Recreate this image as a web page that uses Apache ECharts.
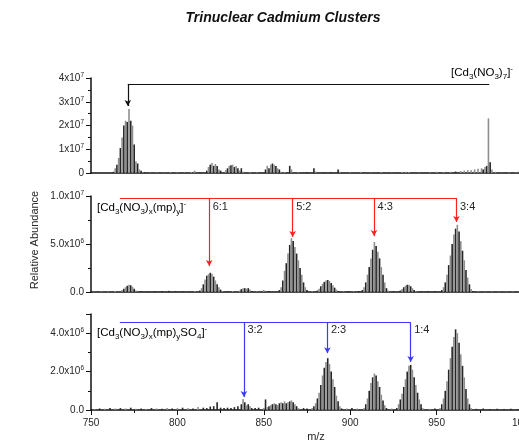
<!DOCTYPE html>
<html>
<head>
<meta charset="utf-8">
<script src="https://cdn.jsdelivr.net/npm/echarts@6/dist/echarts.min.js"></script>
<style>
  html, body { margin: 0; padding: 0; background: #fff; }
  #chart { width: 519px; height: 442px; }
</style>
</head>
<body>
<div id="chart"></div>
<script>
// isotope envelopes: [first m/z, intensities at 1 amu steps]
// top panel in 1e7, middle and bottom in 1e6
var topClusters = [
  [763, [0.05, 0.2, 0.35, 0.63, 1.05, 1.5, 2.0, 2.2, 2.15, 2.7, 2.2, 2.0, 1.2, 0.5, 0.4, 0.15, 0.1, 0.03]],
  [817, [0.1, 0.25, 0.35, 0.42, 0.3, 0.38, 0.3, 0.15, 0.1]],
  [828, [0.12, 0.2, 0.3, 0.33, 0.35, 0.25, 0.3, 0.2, 0.1, 0.2, 0.05]],
  [851, [0.15, 0.3, 0.2, 0.35, 0.4, 0.35, 0.3, 0.2, 0.15, 0.05]],
  [865, [0.3, 0.15]]
];
var topNoise = [
  [781, 0.03], [784, 0.02], [788, 0.03], [792, 0.02], [796, 0.04], [800, 0.03], [804, 0.02], [808, 0.04],
  [810, 0.1], [813, 0.03], [842, 0.04], [846, 0.03], [862, 0.04], [870, 0.03], [875, 0.04], [879, 0.2],
  [880, 0.06], [885, 0.03], [889, 0.03], [893, 0.15], [894, 0.05], [900, 0.03], [906, 0.05], [912, 0.02],
  [918, 0.04], [924, 0.02], [930, 0.04], [932, 0.05], [934, 0.04], [940, 0.02], [946, 0.03], [950, 0.05],
  [954, 0.04], [958, 0.05], [961, 0.06], [964, 0.08], [966, 0.1], [968, 0.12], [970, 0.12], [972, 0.15],
  [974, 0.18], [976, 0.2], [977, 0.15], [978, 0.25], [979, 0.3], [980, 2.3], [981, 0.45], [982, 0.15],
  [984, 0.05], [988, 0.02], [992, 0.03], [996, 0.02], [998, 0.1]
];

var midClusters = [
  [768, [0.2, 0.35, 0.5, 0.65, 0.75, 0.7, 0.55, 0.35, 0.15]],
  [813, [0.15, 0.4, 0.8, 1.3, 1.7, 1.85, 2.0, 1.9, 1.6, 1.2, 0.8, 0.5, 0.25, 0.1]],
  [836, [0.15, 0.3, 0.4, 0.4, 0.35, 0.4, 0.25, 0.1]],
  [859, [0.2, 0.5, 1.2, 2.2, 3.0, 4.0, 4.9, 5.6, 5.3, 4.7, 4.0, 3.3, 2.5, 1.8, 1.0, 0.5, 0.2]],
  [881, [0.15, 0.35, 0.6, 0.85, 1.05, 1.2, 1.25, 1.15, 0.95, 0.7, 0.45, 0.25, 0.1]],
  [907, [0.2, 0.5, 1.0, 1.8, 2.6, 3.5, 4.4, 5.2, 4.8, 4.2, 3.5, 2.6, 1.8, 1.0, 0.4, 0.15]],
  [929, [0.15, 0.3, 0.5, 0.65, 0.75, 0.75, 0.6, 0.4, 0.2, 0.1]],
  [953, [0.2, 0.5, 1.0, 1.8, 2.8, 3.8, 5.0, 6.0, 6.6, 7.0, 6.3, 5.3, 4.3, 3.3, 2.3, 1.5, 0.8, 0.3, 0.1]]
];
var midNoise = [
  [752, 0.05], [756, 0.08], [760, 0.06], [764, 0.1], [779, 0.1], [783, 0.05], [787, 0.08], [791, 0.1],
  [795, 0.12], [799, 0.08], [803, 0.06], [807, 0.05], [810, 0.08], [829, 0.08], [832, 0.1], [846, 0.08],
  [850, 0.2], [853, 0.1], [878, 0.08], [896, 0.06], [899, 0.1], [902, 0.08], [905, 0.1], [925, 0.08],
  [941, 0.06], [945, 0.08], [949, 0.1], [974, 0.08], [978, 0.06], [982, 0.05], [986, 0.06], [990, 0.05],
  [994, 0.06], [998, 0.05]
];

var botClusters = [
  [837, [0.3, 0.57, 0.4, 0.25, 0.3, 0.2, 0.1]],
  [850, [0.1, 0.55, 0.15, 0.2, 0.25, 0.3, 0.35, 0.3, 0.25, 0.35, 0.4, 0.35, 0.45, 0.35, 0.4, 0.45, 0.5, 0.4, 0.3, 0.2, 0.1]],
  [878, [0.1, 0.2, 0.35, 0.6, 0.9, 1.3, 1.8, 2.2, 2.5, 2.7, 2.4, 2.0, 1.6, 1.2, 0.75, 0.45, 0.2, 0.08]],
  [908, [0.1, 0.3, 0.6, 1.0, 1.4, 1.7, 1.9, 1.8, 1.5, 1.2, 0.8, 0.5, 0.25, 0.1]],
  [927, [0.1, 0.3, 0.55, 0.85, 1.2, 1.6, 2.0, 2.3, 2.35, 2.1, 1.7, 1.3, 0.9, 0.55, 0.3, 0.1]],
  [952, [0.1, 0.3, 0.6, 1.0, 1.5, 2.1, 2.7, 3.3, 3.8, 4.2, 4.0, 3.5, 2.9, 2.3, 1.7, 1.1, 0.6, 0.3, 0.1]]
];
var botNoise = [
  [752, 0.05], [755, 0.08], [758, 0.06], [761, 0.1], [764, 0.08], [767, 0.1], [770, 0.08], [773, 0.12],
  [776, 0.06], [779, 0.08], [782, 0.06], [785, 0.1], [788, 0.08], [791, 0.06], [794, 0.1], [797, 0.08],
  [800, 0.1], [803, 0.12], [806, 0.1], [809, 0.08], [812, 0.15], [815, 0.12], [817, 0.1], [819, 0.18],
  [821, 0.2], [823, 0.4], [825, 0.12], [827, 0.1], [829, 0.12], [831, 0.1], [833, 0.15], [835, 0.2],
  [845, 0.1], [847, 0.12], [873, 0.1], [875, 0.08], [898, 0.08], [901, 0.1], [904, 0.08], [924, 0.08],
  [946, 0.06], [949, 0.08], [973, 0.06], [977, 0.08], [981, 0.05], [985, 0.06], [989, 0.05], [993, 0.06],
  [997, 0.05]
];

// assignment brackets: m/z of arrows, arrow tip heights, bracket level
var topArrowMz = [771.3];
var topArrowTip = [2.82];
var topBracket = [771.3, 980.5, 3.75];

var midArrowMz = [818.4, 866.7, 913.8, 961.5];
var midArrowTip = [2.7, 5.73, 5.83, 7.3];
var midRatios = ['6:1', '5:2', '4:3', '3:4'];
var midBracket = [766.7, 961.5, 9.8];

var botArrowMz = [838.5, 886.8, 935];
var botArrowTip = [0.68, 2.96, 2.5];
var botRatios = ['3:2', '2:3', '1:4'];
var botBracket = [766.7, 935, 4.57];

var FONT = 'Liberation Sans, Arial, sans-serif';
var DARK = '#262626';
var GRAY = '#8e8e8e';

function build(clusters, noise) {
  var out = [];
  clusters.forEach(function (c) {
    c[1].forEach(function (v, i) { out.push([c[0] + i, v]); });
  });
  noise.forEach(function (p) { out.push(p); });
  return out;
}

function bracket(b, mzs, tips, color) {
  var lines = [[{ coord: [b[0], b[2]], symbol: 'none' }, { coord: [b[1], b[2]], symbol: 'none' }]];
  mzs.forEach(function (m, i) {
    lines.push([{ coord: [m, b[2]], symbol: 'none' }, { coord: [m, tips[i]] }]);
  });
  return {
    silent: true,
    symbol: ['none', 'arrow'],
    symbolSize: [5, 6],
    label: { show: false },
    lineStyle: { color: color, width: 1.2, type: 'solid', opacity: 1 },
    emphasis: { disabled: true },
    data: lines
  };
}

function ratioLabels(mzs, names, level) {
  return {
    silent: true,
    symbol: 'circle',
    symbolSize: 1,
    itemStyle: { color: 'rgba(0,0,0,0)' },
    label: { show: true, position: 'right', distance: 3, formatter: '{b}', color: DARK, fontSize: 11, fontFamily: FONT },
    data: mzs.map(function (m, i) { return { name: names[i], coord: [m, level] }; })
  };
}

var richY = {
  m: { fontSize: 10, lineHeight: 13, color: DARK, fontFamily: FONT },
  s: { fontSize: 6.5, color: DARK, fontFamily: FONT, verticalAlign: 'top' }
};
var richT = {
  m: { fontSize: 11.5, lineHeight: 16, color: DARK, fontFamily: FONT },
  b: { fontSize: 8, color: DARK, fontFamily: FONT, verticalAlign: 'bottom' },
  t: { fontSize: 8, color: DARK, fontFamily: FONT, verticalAlign: 'top' }
};

var grids = [
  { left: 91, width: 432, top: 78, height: 95, outerBoundsMode: 'none', containLabel: false },
  { left: 91, width: 432, top: 196, height: 96, outerBoundsMode: 'none', containLabel: false },
  { left: 91, width: 432, top: 314, height: 96, outerBoundsMode: 'none', containLabel: false }
];

function xAx(i, showLabels) {
  return {
    type: 'value', gridIndex: i, min: 750, max: 1000, interval: 50,
    axisLine: { show: true, onZero: false, lineStyle: { color: '#111', width: 1.5 } },
    axisTick: { show: showLabels, length: 5, lineStyle: { color: '#111' } },
    minorTick: { show: showLabels, splitNumber: 2, length: 3, lineStyle: { color: '#111' } },
    axisLabel: { show: showLabels, fontSize: 10, color: DARK, fontFamily: FONT, margin: 8,
      formatter: function (v) { return String(v); } },
    splitLine: { show: false }
  };
}

function yAx(i, max, interval, fmt) {
  return {
    type: 'value', gridIndex: i, min: 0, max: max, interval: interval,
    axisLine: { show: true, lineStyle: { color: '#111', width: 1.5 } },
    axisTick: { show: true, length: 5, lineStyle: { color: '#111' } },
    minorTick: { show: true, splitNumber: 2, length: 3, lineStyle: { color: '#111' } },
    axisLabel: { show: true, margin: 7, formatter: fmt, rich: richY },
    splitLine: { show: false }
  };
}

function barColor(p) { return p.value[0] % 2 ? DARK : GRAY; }

var myChart = echarts.init(document.getElementById('chart'));
var option = {
  animation: false,
  backgroundColor: '#fff',
  grid: grids,
  xAxis: [xAx(0, false), xAx(1, false), xAx(2, true)],
  yAxis: [
    yAx(0, 4, 1, function (v) { return v === 0 ? '{m|0}' : '{m|' + v + 'x10}{s|7}'; }),
    yAx(1, 10, 5, function (v) {
      if (v === 0) return '{m|0.0}';
      return v === 10 ? '{m|1.0x10}{s|7}' : '{m|5.0x10}{s|6}';
    }),
    yAx(2, 5, 2, function (v) {
      if (v === 0) return '{m|0.0}';
      if (v === 5) return '';
      return '{m|' + v.toFixed(1) + 'x10}{s|6}';
    })
  ],
  series: [
    {
      type: 'bar', xAxisIndex: 0, yAxisIndex: 0, barWidth: 1.6,
      data: build(topClusters, topNoise),
      itemStyle: { color: barColor },
      markLine: bracket(topBracket, topArrowMz, topArrowTip, '#111')
    },
    {
      type: 'bar', xAxisIndex: 1, yAxisIndex: 1, barWidth: 1.6,
      data: build(midClusters, midNoise),
      itemStyle: { color: barColor },
      markLine: bracket(midBracket, midArrowMz, midArrowTip, '#ff2020'),
      markPoint: ratioLabels(midArrowMz, midRatios, 8.85)
    },
    {
      type: 'bar', xAxisIndex: 2, yAxisIndex: 2, barWidth: 1.6,
      data: build(botClusters, botNoise),
      itemStyle: { color: barColor },
      markLine: bracket(botBracket, botArrowMz, botArrowTip, '#3a3aff'),
      markPoint: ratioLabels(botArrowMz, botRatios, 4.15)
    }
  ],
  graphic: [
    {
      type: 'text', x: 283, y: 18,
      style: { text: 'Trinuclear Cadmium Clusters', fontSize: 14, fontWeight: 'bold', fontStyle: 'italic',
        fontFamily: FONT, fill: '#111', align: 'center', verticalAlign: 'middle' }
    },
    {
      type: 'text', x: 35, y: 240, rotation: Math.PI / 2,
      style: { text: 'Relative Abundance', fontSize: 11, fontFamily: FONT, fill: DARK, align: 'center', verticalAlign: 'middle' }
    },
    {
      type: 'text', x: 316, y: 437,
      style: { text: 'm/z', fontSize: 11, fontFamily: FONT, fill: DARK, align: 'center', verticalAlign: 'middle' }
    },
    {
      type: 'text', x: 451, y: 73,
      style: { text: '{m|[Cd}{b|3}{m|(NO}{b|3}{m|)}{b|7}{m|]}{t|-}', rich: richT, align: 'left', verticalAlign: 'middle' }
    },
    {
      type: 'text', x: 97, y: 208,
      style: { text: '{m|[Cd}{b|3}{m|(NO}{b|3}{m|)}{b|x}{m|(mp)}{b|y}{m|]}{t|-}', rich: richT, align: 'left', verticalAlign: 'middle' }
    },
    {
      type: 'text', x: 97, y: 333,
      style: { text: '{m|[Cd}{b|3}{m|(NO}{b|3}{m|)}{b|x}{m|(mp)}{b|y}{m|SO}{b|4}{m|]}{t|-}', rich: richT, align: 'left', verticalAlign: 'middle' }
    }
  ]
};
option && myChart.setOption(option);
</script>
</body>
</html>
